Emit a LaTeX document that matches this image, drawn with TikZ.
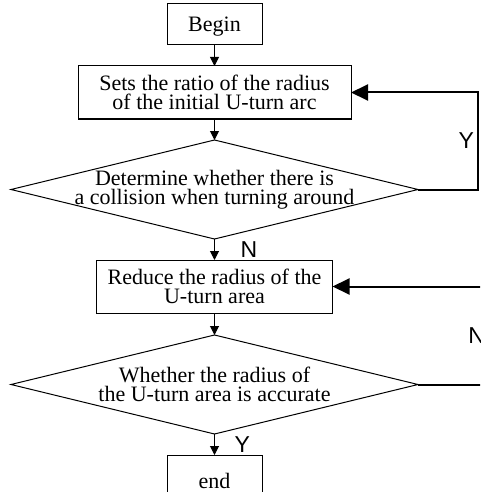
\documentclass[tikz,border=0pt]{standalone}
\usepackage{fontspec}
\setmainfont{Liberation Serif}
\newfontfamily\labelfont{Liberation Sans}
\usetikzlibrary{positioning,arrows.meta,shapes.geometric}

\begin{document}
\begin{tikzpicture}[
  font=\fontsize{22pt}{19pt}\selectfont, node distance=21pt,
  every node/.style={outer sep=0pt},
  box/.style={draw, line width=1pt, align=center, inner sep=0pt,
              minimum height=53pt},
  term/.style={box, minimum width=95pt, minimum height=41pt, text depth=0pt},
  decision/.style={draw, line width=1pt, diamond, aspect=4.11, align=center,
                   inner xsep=-40pt, inner ysep=0pt,
                   minimum width=407pt, minimum height=99pt},
  flow/.style={line width=1pt, -{Triangle[width=9pt,length=9pt]}},
  back/.style={line width=2pt, -{Triangle[width=16pt,length=17pt]}},
  yn/.style={font=\labelfont\fontsize{23pt}{23pt}\selectfont, inner sep=2pt}
]
\useasboundingbox (0,0) rectangle (480pt,-492pt);
\clip (0,0) rectangle (480pt,-492pt);

\node[term] (begin) at (214.5pt,-24.5pt) {Begin};
\node[box, minimum width=273pt, below=of begin] (ratio)
  {Sets the ratio of the radius\\of the initial U-turn arc};
\node[decision, below=of ratio] (collide)
  {Determine whether there is\\a collision when turning around};
\node[box, minimum width=236pt, below=of collide] (reduce)
  {Reduce the radius of the\\U-turn area};
\node[decision, below=22pt of reduce] (accurate)
  {Whether the radius of\\the U-turn area is accurate};
\node[term, minimum height=51pt, below=of accurate] (finish) {end};

\draw[flow] (begin) -- (ratio);
\draw[flow] (ratio) -- (collide);
\draw[flow] (collide) -- node[yn, right=24pt]{N} (reduce);
\draw[flow] (reduce) -- (accurate);
\draw[flow] (accurate) -- node[yn, right=18pt]{Y} (finish);

% loops back on the right
\draw[back] (collide.east) -- ++(60pt,0) |- node[yn, pos=0.25, left=2pt]{Y} (ratio.east);
\draw[back] (accurate.east) -- ++(71pt,0) |- node[yn, pos=0.25, left=2pt]{N} (reduce.east);
\end{tikzpicture}
\end{document}
